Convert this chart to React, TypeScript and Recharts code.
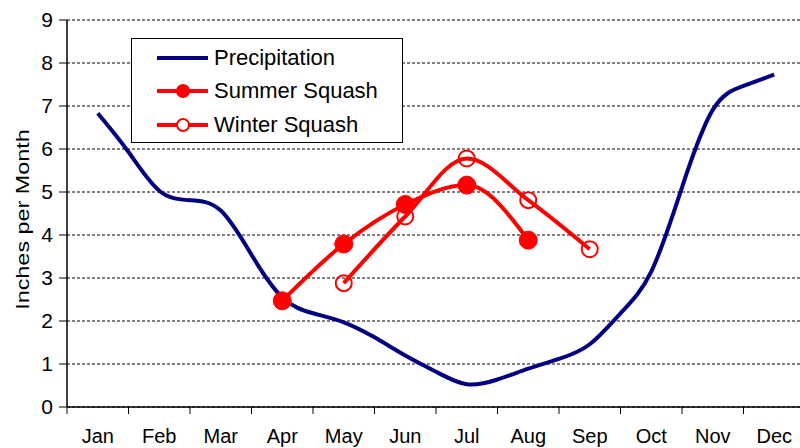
import { LineChart, Line, XAxis, YAxis, CartesianGrid, Legend, Label } from 'recharts';

const months = ['Jan', 'Feb', 'Mar', 'Apr', 'May', 'Jun', 'Jul', 'Aug', 'Sep', 'Oct', 'Nov', 'Dec'];

// precipitation at mid-month and at month end (in months from Jan 1)
const precipPos = [0.5, 1, 1.5, 2, 2.5, 3, 3.5, 4, 4.5, 5, 5.5, 6, 6.5, 7, 7.5, 8, 8.5, 9, 9.5, 10, 10.5, 11, 11.5];
const precipitation = [6.83, 5.93, 5.03, 4.81, 4.57, 3.54, 2.55, 2.18, 1.97, 1.62, 1.2, 0.82, 0.53, 0.64, 0.89, 1.12, 1.46, 2.18, 3.15, 5.11, 6.91, 7.47, 7.73];

const summerMonths = ['Apr', 'May', 'Jun', 'Jul', 'Aug'];
const summerSquash = [2.47, 3.79, 4.71, 5.16, 3.88];

const winterMonths = ['May', 'Jun', 'Jul', 'Aug', 'Sep'];
const winterSquash = [2.88, 4.43, 5.78, 4.81, 3.67];

const yTicks = [0, 1, 2, 3, 4, 5, 6, 7, 8, 9];

const FONT = '"Liberation Sans", Arial, sans-serif';
const NAVY = '#000080';
const RED = '#FF0000';
const TICK_SIZE = 7;
const TICK_GAP = 15;

const mid = (m: string) => months.indexOf(m) + 0.5;

const precipData = precipPos.map((pos, i) => ({ pos, value: precipitation[i] }));
const summerData = summerMonths.map((m, i) => ({ pos: mid(m), value: summerSquash[i] }));
const winterData = winterMonths.map((m, i) => ({ pos: mid(m), value: winterSquash[i] }));

// ticks at month boundaries get a tick mark, ticks at month middles get the name
const xTicks: number[] = [];
months.forEach((_, i) => xTicks.push(i, i + 0.5));
xTicks.push(months.length);

const MonthTick = (props: any) => {
  const { x, y, payload } = props;
  const v = payload.value;
  if (Number.isInteger(v)) {
    const y0 = y - TICK_SIZE - TICK_GAP;
    return <line x1={x} x2={x} y1={y0} y2={y0 + TICK_SIZE} stroke="#000" strokeWidth={1} />;
  }
  return (
    <text x={x} y={y} dy="0.71em" textAnchor="middle" fontSize={20} fontFamily={FONT} fill="#000">
      {months[Math.floor(v)]}
    </text>
  );
};

const YTitle = (props: any) => {
  const { viewBox } = props;
  const cx = viewBox.x + 23;
  const cy = viewBox.y + viewBox.height / 2 + 6;
  return (
    <text
      transform={`translate(${cx},${cy}) rotate(-90) scale(1.3,1)`}
      textAnchor="middle"
      dominantBaseline="central"
      fontSize={18}
      fontFamily={FONT}
      fill="#000"
    >
      Inches per Month
    </text>
  );
};

const legendItems = [
  { name: 'Precipitation', color: NAVY, marker: 'none' },
  { name: 'Summer Squash', color: RED, marker: 'filled' },
  { name: 'Winter Squash', color: RED, marker: 'open' },
];

const LegendBox = () => (
  <div
    style={{
      border: '1px solid #000',
      background: '#fff',
      width: 270,
      height: 101,
      boxSizing: 'content-box',
      fontFamily: FONT,
      fontSize: 22,
      paddingTop: 2,
    }}
  >
    {legendItems.map((it) => (
      <div key={it.name} style={{ display: 'flex', alignItems: 'center', height: 33.5 }}>
        <svg width={82} height={24} style={{ flex: 'none' }}>
          <line x1={25} x2={76} y1={12} y2={12} stroke={it.color} strokeWidth={4} />
          {it.marker === 'filled' && <circle cx={51} cy={12} r={7} fill={RED} />}
          {it.marker === 'open' && <circle cx={51} cy={12} r={6} fill="#fff" stroke={RED} strokeWidth={2} />}
        </svg>
        <span style={{ color: '#000', whiteSpace: 'nowrap' }}>{it.name}</span>
      </div>
    ))}
  </div>
);

export default function App() {
  return (
    <div style={{ position: 'fixed', left: 0, top: 0, background: '#fff' }}>
      <LineChart width={800} height={448} margin={{ top: 20, right: -5, bottom: 0, left: 0 }}>
        <CartesianGrid vertical={false} stroke="#000" strokeDasharray="3 2" strokeWidth={1} />
        <XAxis
          type="number"
          dataKey="pos"
          domain={[0, months.length]}
          ticks={xTicks}
          interval={0}
          allowDuplicatedCategory={false}
          height={41}
          axisLine={{ stroke: '#000', strokeWidth: 1.5 }}
          tickLine={false}
          tickSize={TICK_SIZE}
          tickMargin={TICK_GAP}
          tick={<MonthTick />}
        />
        <YAxis
          domain={[0, 9]}
          ticks={yTicks}
          interval={0}
          width={67}
          axisLine={{ stroke: '#000', strokeWidth: 1.5 }}
          tickLine={{ stroke: '#000' }}
          tickSize={8}
          tickMargin={6}
          tick={{ fontSize: 21, fontFamily: FONT, fill: '#000' }}
        >
          <Label content={<YTitle />} position="insideLeft" />
        </YAxis>
        <Legend
          layout="vertical"
          verticalAlign="middle"
          align="center"
          wrapperStyle={{ left: 131, top: 38, width: 272 }}
          content={<LegendBox />}
        />
        <Line
          data={precipData}
          dataKey="value"
          name="Precipitation"
          type="natural"
          stroke={NAVY}
          strokeWidth={4}
          dot={false}
          activeDot={false}
          isAnimationActive={false}
        />
        <Line
          data={summerData}
          dataKey="value"
          name="Summer Squash"
          type="monotone"
          stroke={RED}
          strokeWidth={4}
          dot={{ r: 9, fill: RED, stroke: RED, strokeWidth: 1 }}
          activeDot={false}
          isAnimationActive={false}
        />
        <Line
          data={winterData}
          dataKey="value"
          name="Winter Squash"
          type="monotone"
          stroke={RED}
          strokeWidth={4}
          dot={{ r: 8, fill: 'none', stroke: RED, strokeWidth: 2 }}
          activeDot={false}
          isAnimationActive={false}
        />
      </LineChart>
    </div>
  );
}
